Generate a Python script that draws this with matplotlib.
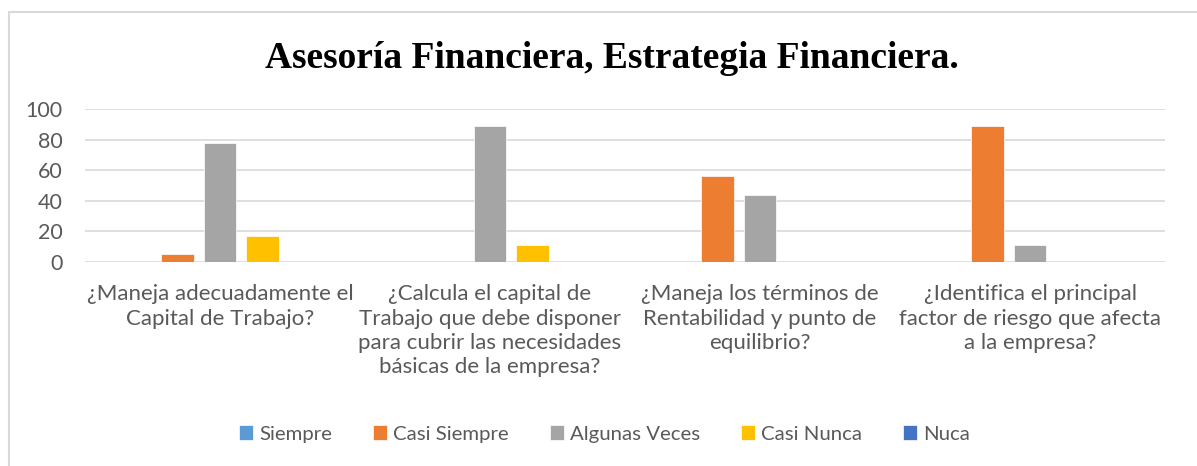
import numpy as np
import matplotlib.pyplot as plt
from matplotlib.patches import Rectangle

categories = [
    "¿Maneja adecuadamente el\nCapital de Trabajo?",
    "¿Calcula el capital de\nTrabajo que debe disponer\npara cubrir las necesidades\nbásicas de la empresa?",
    "¿Maneja los términos de\nRentabilidad y punto de\nequilibrio?",
    "¿Identifica el principal\nfactor de riesgo que afecta\na la empresa?",
]
series = ["Siempre", "Casi Siempre", "Algunas Veces", "Casi Nunca", "Nuca"]
siempre = [0, 0, 0, 0]
casi_siempre = [5, 0, 56, 89]
algunas_veces = [78, 89, 44, 11]
casi_nunca = [17, 11, 0, 0]
nuca = [0, 0, 0, 0]
colors = ["#5B9BD5", "#ED7D31", "#A5A5A5", "#FFC000", "#4472C4"]

values = [siempre, casi_siempre, algunas_veces, casi_nunca, nuca]

plt.rcParams['font.family'] = ['Lato', 'DejaVu Sans']

fig = plt.figure(figsize=(11.97, 4.66), dpi=100)
ax = fig.add_axes([85 / 1197, 1 - 262 / 466, 1080 / 1197, 153 / 466])

x = np.arange(len(categories))
step = 0.156
width = 0.122
for i, (name, vals) in enumerate(zip(series, values)):
    ax.bar(x + (i - 2) * step, vals, width, color=colors[i], label=name,
           edgecolor='white', linewidth=0.5, zorder=3)

ax.set_xlim(-0.5, 3.5)
ax.set_ylim(0, 100)
ax.set_yticks(range(0, 101, 20))
ax.yaxis.grid(True, color='#D9D9D9', linewidth=1.2, zorder=0)
for s in ax.spines.values():
    s.set_visible(False)
ax.tick_params(axis='both', length=0, colors='#595959')
ax.tick_params(axis='y', pad=16, labelsize=15.5)
ax.tick_params(axis='x', pad=16, labelsize=16)
ax.set_xticks(x)
ax.set_xticklabels(categories, linespacing=1.27)

fig.text(0.511, 1 - 58 / 466, "Asesoría Financiera, Estrategia Financiera.",
         ha='center', va='center', fontsize=27, fontweight='bold',
         family='Liberation Serif')

fig.legend(loc='center', bbox_to_anchor=(0.505, 1 - 434 / 466), ncol=5,
           frameon=False, fontsize=14.7, handlelength=0.7, handleheight=0.7,
           handletextpad=0.3, columnspacing=2.0, labelcolor='#595959')

fig.patches.append(Rectangle((9 / 1197, -0.1), 1.2, 1.1 - 12 / 466,
                             transform=fig.transFigure, fill=False,
                             edgecolor='#D9D9D9', linewidth=1.5))

fig.savefig("out.png", dpi=100)
